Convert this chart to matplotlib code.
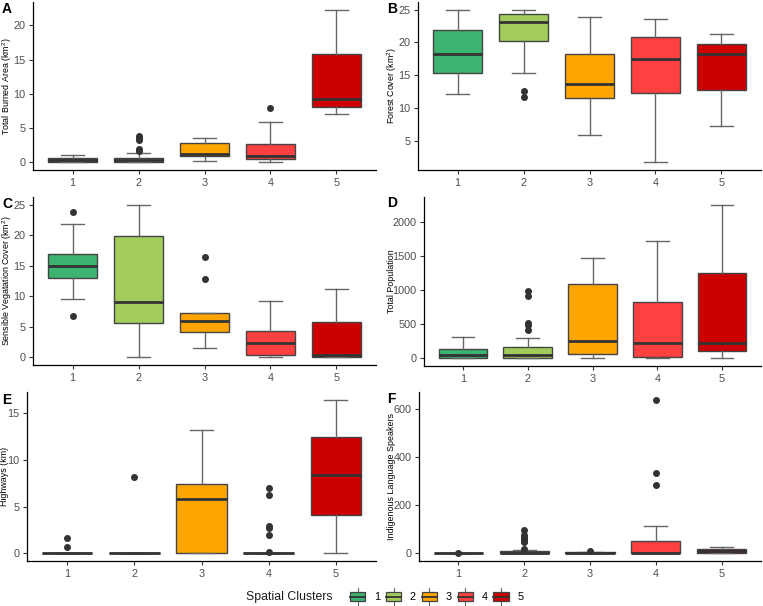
import matplotlib
matplotlib.use('Agg')
import matplotlib.pyplot as plt
from matplotlib.patches import Patch, Rectangle
from matplotlib.lines import Line2D
from matplotlib.legend_handler import HandlerBase

plt.rcParams['font.family'] = ['Liberation Sans', 'DejaVu Sans']
plt.rcParams['mathtext.default'] = 'regular'

clusters = ['1', '2', '3', '4', '5']
colors = ['#3CB371', '#A2CD5A', '#FFA500', '#FF4040', '#CC0000']

# A: Total Burned Area (km2)
burn_whislo = [0.0, 0.0, 0.24, 0.0, 7.0]
burn_q1 = [0.0, 0.03, 0.87, 0.48, 8.1]
burn_med = [0.3, 0.34, 1.26, 0.87, 9.2]
burn_q3 = [0.58, 0.63, 2.8, 2.7, 15.85]
burn_whishi = [1.06, 1.35, 3.53, 5.94, 22.3]
burn_fliers = [[], [1.6, 1.8, 2.0, 3.2, 3.5, 3.8], [], [7.87], []]

# B: Forest Cover (km2)
forest_whislo = [12.04, 15.38, 5.81, 1.66, 7.23]
forest_q1 = [15.38, 20.14, 11.53, 12.19, 12.7]
forest_med = [18.27, 23.13, 13.71, 17.41, 18.16]
forest_q3 = [21.96, 24.29, 18.27, 20.85, 19.78]
forest_whishi = [25.0, 25.0, 23.84, 23.58, 21.35]
forest_fliers = [[], [12.6, 11.58], [], [], []]

# C: Sensible Vegetation Cover (km2)
veg_whislo = [9.59, 0.0, 1.47, 0.0, 0.0]
veg_q1 = [13.07, 5.61, 4.14, 0.38, 0.1]
veg_med = [14.98, 9.04, 5.94, 2.29, 0.38]
veg_q3 = [16.88, 19.83, 7.24, 4.3, 5.77]
veg_whishi = [21.79, 25.0, 7.24, 9.2, 11.22]
veg_fliers = [[23.86, 6.75], [], [16.39, 12.75], [], []]

# D: Total Population
pop_whislo = [0, 0, 0, 0, 0]
pop_q1 = [5, 5, 64, 15, 108]
pop_med = [44, 49, 260, 221, 231]
pop_q3 = [138, 167, 1091, 835, 1248]
pop_whishi = [310, 295, 1474, 1720, 2260]
pop_fliers = [[], [985, 910, 515, 495, 420], [], [], []]

# E: Highways (km)
hw_whislo = [0, 0, 0, 0, 0]
hw_q1 = [0, 0, 0, 0, 4.15]
hw_med = [0, 0, 5.8, 0, 8.38]
hw_q3 = [0, 0, 7.48, 0, 12.42]
hw_whishi = [0, 0, 13.2, 0, 16.47]
hw_fliers = [[1.61, 0.72], [8.16], [], [6.98, 6.23, 2.95, 2.75, 2.0, 0.1], []]

# F: Indigenous Language Speakers
ind_whislo = [0, 0, 0, 0, 0]
ind_q1 = [0, 0, 0, 0, 2]
ind_med = [0, 3, 1, 2, 10]
ind_q3 = [1, 8, 5, 50, 17]
ind_whishi = [1, 12.5, 5, 114, 28]
ind_fliers = [[1], [95, 78, 68, 60, 52, 45, 17], [11], [639, 335, 286], []]

W, H = 763, 606
fig = plt.figure(figsize=(W / 100, H / 100), dpi=100)

BOX_EDGE = '#444444'
MED_COL = '#333333'
WHISK_COL = '#666666'


def make_axes(l, t, r, b):
    return fig.add_axes([l / W, 1 - b / H, (r - l) / W, (b - t) / H])


def panel(rect, letter, letter_xy, ylabel, ylabel_x, whislo, q1, med, q3, whishi, fliers, yticks):
    ax = make_axes(*rect)
    stats = []
    for i in range(5):
        stats.append(dict(whislo=whislo[i], q1=q1[i], med=med[i], q3=q3[i],
                          whishi=whishi[i], fliers=fliers[i], label=clusters[i]))
    bp = ax.bxp(stats, positions=[1, 2, 3, 4, 5], widths=0.75, patch_artist=True,
                showfliers=True, capwidths=0.35,
                boxprops=dict(edgecolor=BOX_EDGE, linewidth=1.0),
                medianprops=dict(color=MED_COL, linewidth=2.0, solid_capstyle='butt'),
                whiskerprops=dict(color=WHISK_COL, linewidth=1.0),
                capprops=dict(color=WHISK_COL, linewidth=1.0),
                flierprops=dict(marker='o', markerfacecolor='#333333',
                                markeredgecolor='#333333', markersize=4))
    for patch, c in zip(bp['boxes'], colors):
        patch.set_facecolor(c)
    allv = list(whislo) + list(whishi) + [v for f in fliers for v in f]
    lo, hi = min(allv), max(allv)
    pad = (hi - lo) * 0.05
    ax.set_ylim(lo - pad, hi + pad)
    ax.set_xlim(0.4, 5.6)
    ax.set_xticks([1, 2, 3, 4, 5])
    ax.set_xticklabels(clusters)
    ax.set_yticks(yticks)
    ax.set_yticklabels([str(v) for v in yticks])
    for s in ['top', 'right']:
        ax.spines[s].set_visible(False)
    for s in ['left', 'bottom']:
        ax.spines[s].set_linewidth(0.9)
        ax.spines[s].set_color('black')
    ax.tick_params(axis='both', labelsize=7.8, labelcolor='#4D4D4D', color='#333333',
                   length=3, width=0.8, pad=2.5)
    ycen = 1 - (rect[1] + rect[3]) / 2 / H
    fig.text(ylabel_x / W, ycen, ylabel, rotation=90, fontsize=6.4,
             ha='center', va='center')
    fig.text(letter_xy[0] / W, 1 - letter_xy[1] / H, letter, fontsize=10,
             fontweight='bold', ha='left', va='top')
    return ax


panel((33, 2, 376, 170), 'A', (2, 2), 'Total Burned Area (km$^2$)', 7,
      burn_whislo, burn_q1, burn_med, burn_q3, burn_whishi, burn_fliers, [0, 5, 10, 15, 20])
panel((418, 2, 761, 170), 'B', (387, 2), 'Forest Cover (km$^2$)', 392,
      forest_whislo, forest_q1, forest_med, forest_q3, forest_whishi, forest_fliers,
      [5, 10, 15, 20, 25])
panel((33, 197, 376, 365), 'C', (2, 197), 'Sensible Vegatation Cover (km$^2$)', 7,
      veg_whislo, veg_q1, veg_med, veg_q3, veg_whishi, veg_fliers, [0, 5, 10, 15, 20, 25])
panel((424, 197, 761, 366), 'D', (387, 196), 'Total Population', 392,
      pop_whislo, pop_q1, pop_med, pop_q3, pop_whishi, pop_fliers, [0, 500, 1000, 1500, 2000])
panel((27, 392, 376, 561), 'E', (2, 393), 'Highways (km)', 5,
      hw_whislo, hw_q1, hw_med, hw_q3, hw_whishi, hw_fliers, [0, 5, 10, 15])
panel((419, 392, 761, 561), 'F', (387, 392), 'Indigenous Language Speakers', 392,
      ind_whislo, ind_q1, ind_med, ind_q3, ind_whishi, ind_fliers, [0, 200, 400, 600])


class BoxKeyHandler(HandlerBase):
    def create_artists(self, legend, orig_handle, xdescent, ydescent, width, height,
                       fontsize, trans):
        x0, y0 = -xdescent, -ydescent
        xm = x0 + width / 2
        ym = y0 + height / 2
        w1 = Line2D([xm, xm], [y0 - 2.5, y0 + height + 2.5], color=WHISK_COL, lw=0.8,
                    transform=trans)
        r = Rectangle((x0, y0), width, height, facecolor=orig_handle.get_facecolor(),
                      edgecolor=BOX_EDGE, linewidth=0.9, transform=trans)
        m = Line2D([x0, x0 + width], [ym, ym], color=MED_COL, lw=1.3, transform=trans)
        return [w1, r, m]


handles = [Patch(facecolor=c) for c in colors]
fig.text(333 / W, 1 - 597 / H, 'Spatial Clusters', fontsize=8.8, ha='right', va='center',
         color='#1A1A1A')
fig.legend(handles, clusters, handler_map={Patch: BoxKeyHandler()},
           loc='center left', bbox_to_anchor=(350 / W, 1 - 597 / H), ncol=5,
           frameon=False, fontsize=7.8, handlelength=1.4, handleheight=1.0,
           handletextpad=0.8, columnspacing=0.55, borderpad=0, borderaxespad=0)

fig.savefig('out.png', dpi=100)
